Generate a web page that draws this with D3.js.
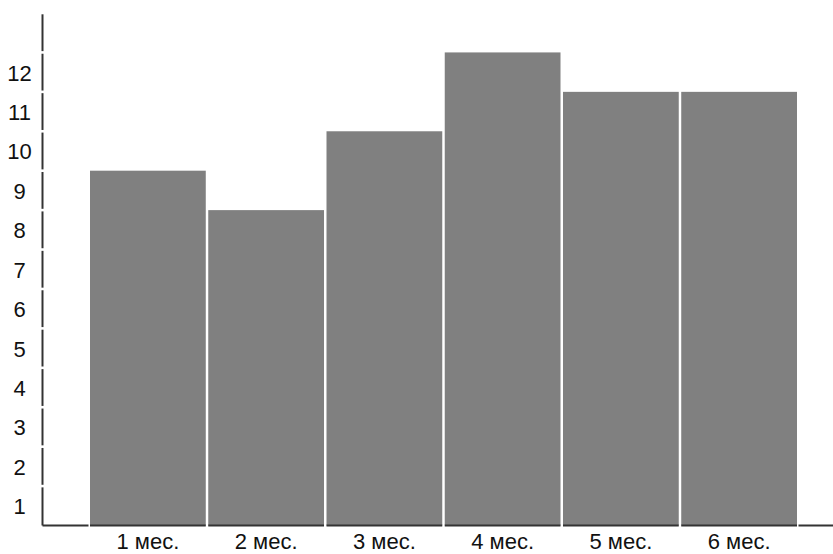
<!DOCTYPE html>
<html>
<head>
<meta charset="utf-8">
<script src="https://cdn.jsdelivr.net/npm/d3@7"></script>
<style>
  html, body { margin: 0; padding: 0; background: #fff; }
  svg { display: block; font-family: "Liberation Sans", Arial, sans-serif; }
</style>
</head>
<body>
<svg id="chart" width="833" height="554"></svg>
<script>
const categories = ["1 мес.", "2 мес.", "3 мес.", "4 мес.", "5 мес.", "6 мес."];
const values = [9, 8, 10, 12, 11, 11];
const yTickLabels = ["1", "2", "3", "4", "5", "6", "7", "8", "9", "10", "11", "12"];
const yMax = 13;

const svg = d3.select("#chart");
const W = 833;
const axisX = 42.5;
const baseY = 525.5;

const x = d3.scaleBand().domain(categories).range([90, 797]).paddingInner(0.021).paddingOuter(0);
const y = d3.scaleLinear().domain([0, yMax]).range([baseY, 13]);

// bars
svg.append("g").selectAll("rect").data(values).join("rect")
  .attr("x", (d, i) => x(categories[i]))
  .attr("y", d => y(d))
  .attr("width", x.bandwidth())
  .attr("height", d => y(0) - y(d))
  .attr("fill", "#808080");

// y axis made of segments, one per unit
const units = d3.range(0, yMax);
svg.append("g").selectAll("line").data(units).join("line")
  .attr("x1", axisX).attr("x2", axisX)
  .attr("y1", d => y(d) - (d === 0 ? 0 : 1.3))
  .attr("y2", d => y(d + 1) + 1.3)
  .attr("stroke", "#333").attr("stroke-width", 2);

// baseline segments with gaps at bar boundaries
const segs = [];
segs.push([axisX, x(categories[0]) - 1.5]);
categories.forEach(c => segs.push([x(c), x(c) + x.bandwidth()]));
segs.push([x(categories[categories.length - 1]) + x.bandwidth() + 1.5, W]);
svg.append("g").selectAll("line").data(segs).join("line")
  .attr("x1", d => d[0]).attr("x2", d => d[1])
  .attr("y1", baseY).attr("y2", baseY)
  .attr("stroke", "#333").attr("stroke-width", 2);

// y tick labels centered in each unit band
svg.append("g").selectAll("text").data(yTickLabels).join("text")
  .attr("x", 19.5)
  .attr("y", (d, i) => (y(i) + y(i + 1)) / 2 + 1)
  .attr("text-anchor", "middle")
  .attr("dominant-baseline", "central")
  .attr("font-size", 22)
  .attr("fill", "#111")
  .text(d => d);

// x labels
svg.append("g").selectAll("text").data(categories).join("text")
  .attr("x", d => x(d) + x.bandwidth() / 2)
  .attr("y", 549)
  .attr("text-anchor", "middle")
  .attr("font-size", 22)
  .attr("fill", "#111")
  .text(d => d);
</script>
</body>
</html>
